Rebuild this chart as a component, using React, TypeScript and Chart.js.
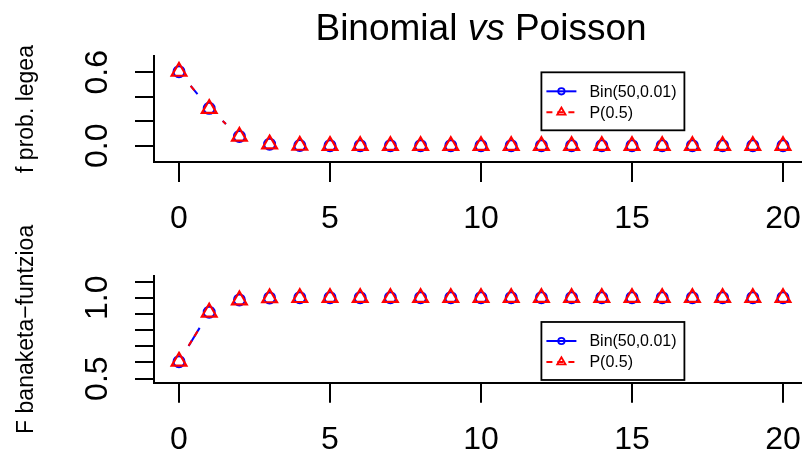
import React, { useEffect, useRef } from 'react';
import { Chart, registerables } from 'chart.js';

Chart.register(...registerables);

// k = 0..20
const ks = [0, 1, 2, 3, 4, 5, 6, 7, 8, 9, 10, 11, 12, 13, 14, 15, 16, 17, 18, 19, 20];

// probability mass
const binPmf = [0.605, 0.3056, 0.0756, 0.0122, 0.0015, 0.0001, 0, 0, 0, 0, 0, 0, 0, 0, 0, 0, 0, 0, 0, 0, 0];
const poisPmf = [0.6065, 0.3033, 0.0758, 0.0126, 0.0016, 0.0002, 0, 0, 0, 0, 0, 0, 0, 0, 0, 0, 0, 0, 0, 0, 0];

// cumulative distribution
const binCdf = [0.605, 0.9106, 0.9862, 0.9984, 0.9999, 1, 1, 1, 1, 1, 1, 1, 1, 1, 1, 1, 1, 1, 1, 1, 1];
const poisCdf = [0.6065, 0.9098, 0.9856, 0.9982, 0.9998, 1, 1, 1, 1, 1, 1, 1, 1, 1, 1, 1, 1, 1, 1, 1, 1];

const xTicks = [0, 5, 10, 15, 20];
const pmfTicks = [0, 0.2, 0.4, 0.6];
const pmfTickLabels = ['0.0', '', '', '0.6'];
const cdfTicks = [0.5, 0.6, 0.7, 0.8, 0.9, 1.0, 1.1];
const cdfTickLabels = ['0.5', '', '', '', '', '1.0', ''];

const seriesNames = ['Bin(50,0.01)', 'P(0.5)'];
const pmfTitle = 'f prob. legea';
const cdfTitle = 'F banaketa\u2212funtzioa';
const titleParts = ['Binomial ', 'vs', ' Poisson'];

// legend top-left corners, in data units
const pmfLegendAt = [12, 0.6];
const cdfLegendAt = [12, 0.85];

const FONT = '"Liberation Sans", Arial, Helvetica, sans-serif';
const BLUE = '#0000ff';
const RED = '#ff0000';
const GAP = 18.4;
const TICK_FONT = 32;

// R-style "b" lines: segments stop short of each point
const gapLines = {
  id: 'gapLines',
  beforeDatasetDraw(chart: any, args: any) {
    const ds = chart.data.datasets[args.index];
    const pts = args.meta.data;
    const ctx = chart.ctx;
    ctx.save();
    ctx.strokeStyle = ds.borderColor;
    ctx.lineWidth = 2;
    ctx.lineCap = 'butt';
    ctx.setLineDash(ds.borderDash || []);
    for (let j = 0; j + 1 < pts.length; j++) {
      const p = pts[j];
      const q = pts[j + 1];
      const dx = q.x - p.x;
      const dy = q.y - p.y;
      const d = Math.hypot(dx, dy);
      if (d <= 2 * GAP) continue;
      const ux = dx / d;
      const uy = dy / d;
      ctx.beginPath();
      ctx.moveTo(p.x + ux * GAP, p.y + uy * GAP);
      ctx.lineTo(q.x - ux * GAP, q.y - uy * GAP);
      ctx.stroke();
    }
    ctx.restore();
  },
};

function drawSymbol(ctx: CanvasRenderingContext2D, style: string, x: number, y: number, r: number, color: string) {
  ctx.save();
  ctx.strokeStyle = color;
  ctx.lineWidth = 1.8;
  ctx.beginPath();
  if (style === 'triangle') {
    for (let i = 0; i < 3; i++) {
      const a = (i * 2 * Math.PI) / 3;
      const px = x + Math.sin(a) * r;
      const py = y - Math.cos(a) * r;
      if (i === 0) ctx.moveTo(px, py);
      else ctx.lineTo(px, py);
    }
    ctx.closePath();
  } else {
    ctx.arc(x, y, r, 0, Math.PI * 2);
  }
  ctx.stroke();
  ctx.restore();
}

// boxed legend with line + symbol samples
const boxLegend = {
  id: 'boxLegend',
  afterDraw(chart: any, _args: any, opts: any) {
    const ctx = chart.ctx;
    const xs = chart.scales.x;
    const ys = chart.scales.y;
    const left = xs.getPixelForValue(opts.at[0]);
    const top = ys.getPixelForValue(opts.at[1]);
    const w = 143;
    const h = 58;
    ctx.save();
    ctx.fillStyle = '#ffffff';
    ctx.fillRect(left, top, w, h);
    ctx.strokeStyle = '#000';
    ctx.lineWidth = 1.8;
    ctx.strokeRect(left, top, w, h);
    const rows = [19, 40];
    chart.data.datasets.forEach((ds: any, i: number) => {
      const y = top + rows[i];
      ctx.strokeStyle = ds.borderColor;
      ctx.lineWidth = 2;
      ctx.setLineDash(ds.borderDash || []);
      ctx.beginPath();
      ctx.moveTo(left + 5, y);
      ctx.lineTo(left + 35, y);
      ctx.stroke();
      ctx.setLineDash([]);
      drawSymbol(ctx, ds.pointStyle, left + 20, y, ds.pointStyle === 'triangle' ? 4.8 : 3.2, ds.borderColor);
      ctx.fillStyle = '#000';
      ctx.font = `16px ${FONT}`;
      ctx.textAlign = 'left';
      ctx.textBaseline = 'middle';
      ctx.fillText(ds.label, left + 48, y + 1);
    });
    ctx.restore();
  },
};

// main title with italic "vs"
const mainTitle = {
  id: 'mainTitle',
  afterDraw(chart: any) {
    const ctx = chart.ctx;
    const xs = chart.scales.x;
    const cx = xs.getPixelForValue((xTicks[0] + xTicks[xTicks.length - 1]) / 2);
    const size = 37;
    const fonts = [`${size}px ${FONT}`, `italic ${size}px ${FONT}`, `${size}px ${FONT}`];
    ctx.save();
    const widths = titleParts.map((t, i) => {
      ctx.font = fonts[i];
      return ctx.measureText(t).width;
    });
    const total = widths.reduce((a, b) => a + b, 0);
    let x = cx - total / 2;
    ctx.fillStyle = '#000';
    ctx.textBaseline = 'alphabetic';
    ctx.textAlign = 'left';
    titleParts.forEach((t, i) => {
      ctx.font = fonts[i];
      ctx.fillText(t, x, 40);
      x += widths[i];
    });
    ctx.restore();
  },
};

const X_AXIS_H = 80;

function makeConfig(
  a: number[],
  b: number[],
  yMin: number,
  yMax: number,
  yTicks: number[],
  yLabels: string[],
  yTitle: string,
  legendAt: number[],
  padTop: number,
  padBottom: number,
  withTitle: boolean
): any {
  return {
    type: 'line',
    data: {
      datasets: [
        {
          label: seriesNames[0],
          data: ks.map((k, i) => ({ x: k, y: a[i] })),
          showLine: false,
          borderColor: BLUE,
          borderDash: [],
          pointStyle: 'circle',
          pointRadius: 5.5,
          pointBorderWidth: 2,
          pointBorderColor: BLUE,
          pointBackgroundColor: 'rgba(0,0,0,0)',
          order: 2,
        },
        {
          label: seriesNames[1],
          data: ks.map((k, i) => ({ x: k, y: b[i] })),
          showLine: false,
          borderColor: RED,
          borderDash: [6, 5],
          pointStyle: 'triangle',
          pointRadius: 8.5,
          pointBorderWidth: 2.2,
          pointBorderColor: RED,
          pointBackgroundColor: 'rgba(0,0,0,0)',
          order: 1,
        },
      ],
    },
    options: {
      responsive: false,
      animation: false,
      devicePixelRatio: 1,
      layout: { autoPadding: false, padding: { top: padTop, bottom: padBottom, left: 0, right: 0 } },
      plugins: {
        legend: { display: false },
        tooltip: { enabled: false },
        title: { display: false },
        boxLegend: { at: legendAt },
      },
      scales: {
        x: {
          type: 'linear',
          position: 'bottom',
          min: -0.828,
          max: 20.629,
          afterBuildTicks: (s: any) => {
            s.ticks = xTicks.map((v) => ({ value: v }));
          },
          afterFit: (s: any) => {
            s.height = X_AXIS_H;
            s.paddingLeft = 0;
            s.paddingRight = 0;
          },
          ticks: {
            color: '#000',
            font: { family: FONT, size: TICK_FONT },
            padding: 18,
            maxRotation: 0,
            minRotation: 0,
            autoSkip: false,
            callback: (v: number) => String(v),
          },
          grid: { drawOnChartArea: false, drawTicks: true, tickLength: 20, color: '#000', lineWidth: 2 },
          border: { display: true, color: '#000', width: 2 },
        },
        y: {
          type: 'linear',
          min: yMin,
          max: yMax,
          afterBuildTicks: (s: any) => {
            s.ticks = yTicks.map((v) => ({ value: v }));
          },
          afterFit: (s: any) => {
            s.width = 154;
            s.paddingTop = 0;
            s.paddingBottom = 0;
          },
          ticks: {
            color: '#000',
            font: { family: FONT, size: TICK_FONT },
            padding: 15,
            minRotation: 90,
            maxRotation: 90,
            crossAlign: 'center',
            autoSkip: false,
            callback: (_v: number, i: number) => yLabels[i],
          },
          grid: { drawOnChartArea: false, drawTicks: true, tickLength: 19, color: '#000', lineWidth: 2 },
          border: { display: true, color: '#000', width: 2 },
          title: {
            display: true,
            text: yTitle,
            color: '#000',
            font: { family: FONT, size: 23 },
            padding: { top: 13, bottom: 0 },
          },
        },
      },
    },
    plugins: withTitle ? [gapLines, boxLegend, mainTitle] : [gapLines, boxLegend],
  };
}

export default function App() {
  const topRef = useRef<HTMLCanvasElement>(null);
  const bottomRef = useRef<HTMLCanvasElement>(null);

  useEffect(() => {
    const top = new Chart(
      topRef.current as HTMLCanvasElement,
      makeConfig(binPmf, poisPmf, -0.1333, 0.7334, pmfTicks, pmfTickLabels, pmfTitle, pmfLegendAt, 56, 454 - 162 - X_AXIS_H, true)
    );
    const bottom = new Chart(
      bottomRef.current as HTMLCanvasElement,
      makeConfig(binCdf, poisCdf, 0.475, 1.134, cdfTicks, cdfTickLabels, cdfTitle, cdfLegendAt, 276, 454 - 382.7 - X_AXIS_H, false)
    );
    return () => {
      top.destroy();
      bottom.destroy();
    };
  }, []);

  const canvasStyle: React.CSSProperties = { position: 'absolute', left: 0, top: 0, width: 802, height: 454 };
  return (
    <div style={{ position: 'fixed', left: 0, top: 0, width: 802, height: 454, background: '#fff', overflow: 'hidden' }}>
      <canvas ref={topRef} width={802} height={454} style={canvasStyle} />
      <canvas ref={bottomRef} width={802} height={454} style={canvasStyle} />
    </div>
  );
}
